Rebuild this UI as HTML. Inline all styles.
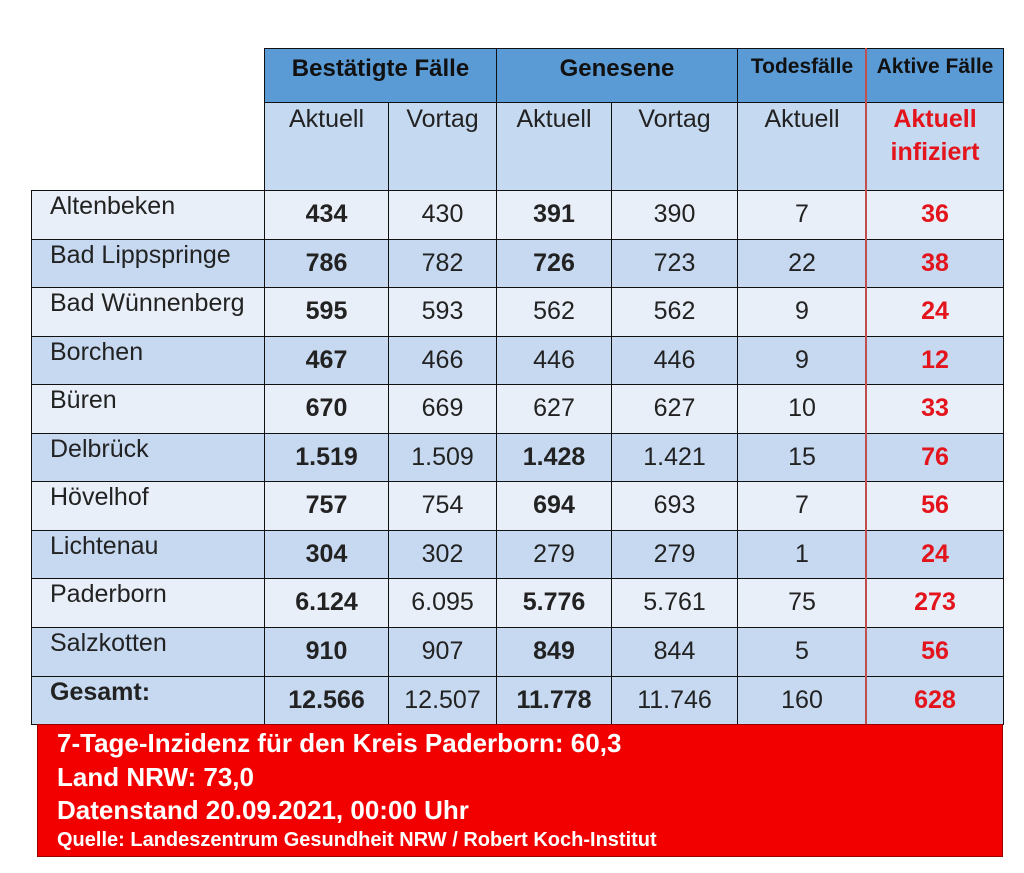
<!DOCTYPE html>
<html><head><meta charset="utf-8">
<style>
body{margin:0;width:1024px;height:873px;background:#fff;position:relative;overflow:hidden;font-family:"Liberation Sans",Arial,sans-serif;}
.c{position:absolute;box-sizing:border-box;border:1px solid #111;color:#222;font-size:25px;font-family:"Liberation Sans",Arial,sans-serif;white-space:nowrap;overflow:visible;}
.hd1{background:#5b9bd5;font-weight:bold;font-size:24px;color:#111;text-align:center;padding-top:6px;}
.hd2{background:#c5d9f0;text-align:center;padding-top:2px;}
.num{text-align:center;padding-top:9px;}
.nm{padding-left:18px;padding-top:1px;}
.b{font-weight:bold;}
.red{color:#e3141b;font-weight:bold;}
#foot{position:absolute;left:37px;top:724px;width:966px;height:133px;background:#f20000;color:#fff;font-weight:bold;box-sizing:border-box;border:1px solid #900;font-family:"Liberation Sans",Arial,sans-serif;}
#foot div{position:absolute;left:19px;white-space:nowrap;}
#vline{position:absolute;left:865px;top:48px;width:2px;height:676px;background:#c0504d;}
</style></head><body>
<div id="hdr"></div>
<div id="tbl"></div>
<div id="vline"></div>
<div id="foot">
<div style="top:3px;font-size:26px">7-Tage-Inzidenz für den Kreis Paderborn: 60,3</div>
<div style="top:37px;font-size:26px">Land NRW: 73,0</div>
<div style="top:70px;font-size:26px">Datenstand 20.09.2021, 00:00 Uhr</div>
<div style="top:104px;font-size:20px">Quelle: Landeszentrum Gesundheit NRW / Robert Koch-Institut</div>
</div>
<script>
const names=["Altenbeken","Bad Lippspringe","Bad Wünnenberg","Borchen","Büren","Delbrück","Hövelhof","Lichtenau","Paderborn","Salzkotten","Gesamt:"];
const confNow=["434","786","595","467","670","1.519","757","304","6.124","910","12.566"];
const confPrev=["430","782","593","466","669","1.509","754","302","6.095","907","12.507"];
const recNow=["391","726","562","446","627","1.428","694","279","5.776","849","11.778"];
const recNowBold=[1,1,0,0,0,1,1,0,1,1,1];
const recPrev=["390","723","562","446","627","1.421","693","279","5.761","844","11.746"];
const deaths=["7","22","9","9","10","15","7","1","75","5","160"];
const active=["36","38","24","12","33","76","56","24","273","56","628"];
const colX=[31,264,388,496,611,737,866,1003];
const top0=190, rowH=48.55;
function cell(parent,x,y,w,h,cls,txt,name){
  const d=document.createElement('div');
  d.className='c '+cls;
  d.style.left=x+'px';d.style.top=y+'px';d.style.width=(w+1)+'px';d.style.height=(h+1)+'px';
  d.textContent=txt;
  
  
  parent.appendChild(d);return d;
}
const H=document.getElementById('hdr');
cell(H,264,48,232,54,'hd1','Bestätigte Fälle','header-confirmed');
cell(H,496,48,241,54,'hd1','Genesene','header-recovered');
cell(H,737,48,129,54,'hd1','Todesfälle','header-deaths').style.fontSize='21px';
cell(H,866,48,137,54,'hd1','Aktive Fälle','header-active').style.fontSize='21px';
const sub=["Aktuell","Vortag","Aktuell","Vortag","Aktuell"];
for(let i=0;i<5;i++){cell(H,colX[i+1],102,colX[i+2]-colX[i+1],88,'hd2',sub[i],'subheader-'+i);}
const a=cell(H,866,102,137,88,'hd2 red','Aktuell infiziert','subheader-active');a.style.lineHeight='33px';a.style.paddingTop='0px';a.style.whiteSpace='normal';
const T=document.getElementById('tbl');
const cols=[confNow,confPrev,recNow,recPrev,deaths,active];
for(let r=0;r<names.length;r++){
  const y=Math.round(top0+r*rowH), h=Math.round(top0+(r+1)*rowH)-y;
  const bg=(r%2===0&&r<10)?'#e9eff8':'#c6d9f0';
  const n=cell(T,colX[0],y,colX[1]-colX[0],h,'nm'+(r===10?' b':''),names[r],'row-label');n.style.background=bg;
  for(let c=0;c<6;c++){
    let cls='num';
    if(c===0)cls+=' b';
    if(c===2&&recNowBold[r])cls+=' b';
    if(c===5)cls+=' red';
    const d=cell(T,colX[c+1],y,colX[c+2]-colX[c+1],h,cls,cols[c][r],'value-cell');
    d.style.background=bg;
  }
}
</script>
</body></html>
